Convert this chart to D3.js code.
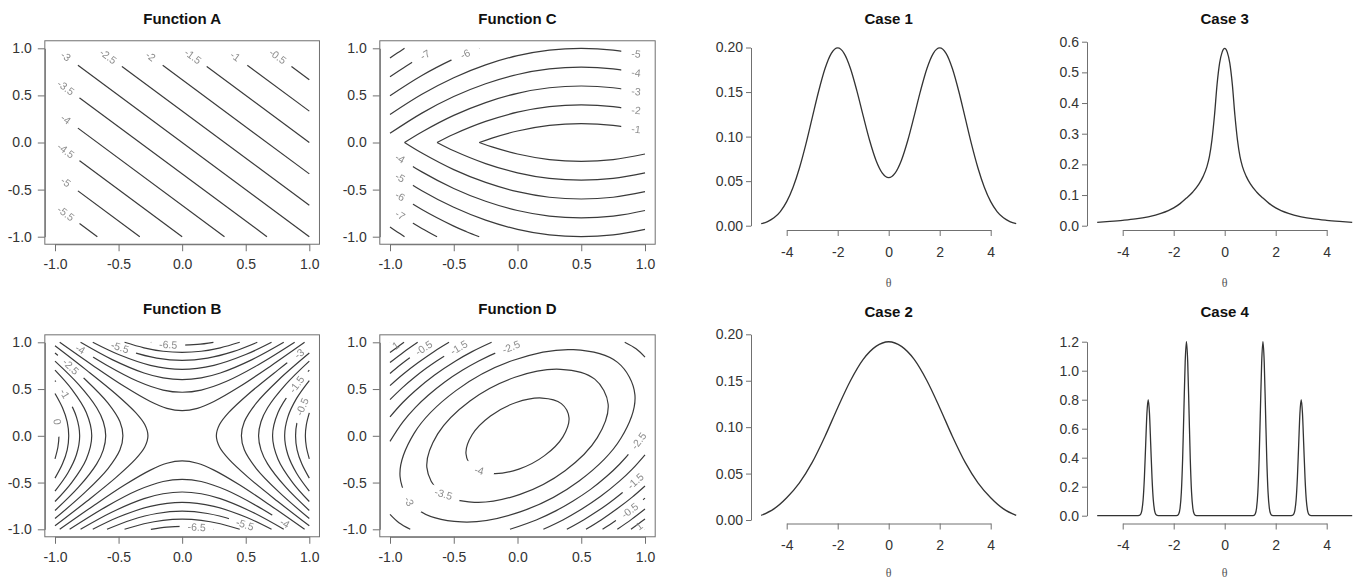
<!DOCTYPE html>
<html>
<head>
<meta charset="utf-8">
<script src="https://cdnjs.cloudflare.com/ajax/libs/d3/7.8.5/d3.min.js"></script>
<style>
body { margin: 0; background: #fff; }
svg { display: block; font-family: "Liberation Sans", Arial, sans-serif; }
.tick text { font-size: 14px; fill: #333; }
.tick line, .domain { stroke: #707070; }
.ttl { font-size: 15px; font-weight: bold; fill: #111; }
.clab { font-size: 10.5px; fill: #8c8c8c; opacity: 0.999; }
.theta { font-family: "Liberation Serif", "DejaVu Serif", serif; font-size: 12px; fill: #555; }
</style>
</head>
<body>
<script>
// tick values
const fnTicks = [-1, -0.5, 0, 0.5, 1];
const caseXTicks = [-4, -2, 0, 2, 4];
const case12Ticks = [0, 0.05, 0.10, 0.15, 0.20];
const case3Ticks = [0, 0.1, 0.2, 0.3, 0.4, 0.5, 0.6];
const case4Ticks = [0, 0.2, 0.4, 0.6, 0.8, 1.0, 1.2];

// contour pieces: z = level, p = points, at = label spot
const aLines = [
  {z: -0.5, p: [[0.667, 1], [1, 0.667]], at: [0.752, 0.915]},
  {z: -1,   p: [[0.333, 1], [1, 0.333]], at: [0.418, 0.915]},
  {z: -1.5, p: [[0, 1], [1, 0]], at: [0.085, 0.915]},
  {z: -2,   p: [[-0.333, 1], [1, -0.333]], at: [-0.248, 0.915]},
  {z: -2.5, p: [[-0.667, 1], [1, -0.667]], at: [-0.582, 0.915]},
  {z: -3,   p: [[-1, 1], [1, -1]], at: [-0.915, 0.915]},
  {z: -3.5, p: [[-1, 0.667], [0.667, -1]], at: [-0.915, 0.582]},
  {z: -4,   p: [[-1, 0.333], [0.333, -1]], at: [-0.915, 0.248]},
  {z: -4.5, p: [[-1, 0], [0, -1]], at: [-0.915, -0.085]},
  {z: -5,   p: [[-1, -0.333], [-0.333, -1]], at: [-0.915, -0.418]},
  {z: -5.5, p: [[-1, -0.667], [-0.667, -1]], at: [-0.915, -0.752]}
];

const cLines = [
  {z: -1, p: [[-0.3, 0], [-0.2, 0.047], [0, 0.122], [0.25, 0.181], [0.5, 0.2], [0.75, 0.181], [1, 0.122]], at: [0.93, 0.142]},
  {z: -1, p: [[-0.3, 0], [-0.2, -0.047], [0, -0.122], [0.25, -0.181], [0.5, -0.2], [0.75, -0.181], [1, -0.122]]},
  {z: -2, p: [[-0.631, 0], [-0.5, 0.088], [-0.25, 0.224], [0, 0.322], [0.25, 0.381], [0.5, 0.4], [0.75, 0.381], [1, 0.322]], at: [0.93, 0.342]},
  {z: -2, p: [[-0.631, 0], [-0.5, -0.088], [-0.25, -0.224], [0, -0.322], [0.25, -0.381], [0.5, -0.4], [0.75, -0.381], [1, -0.322]]},
  {z: -3, p: [[-0.886, 0], [-0.75, 0.112], [-0.5, 0.288], [-0.25, 0.424], [0, 0.522], [0.25, 0.581], [0.5, 0.6], [0.75, 0.581], [1, 0.522]], at: [0.93, 0.542]},
  {z: -3, p: [[-0.886, 0], [-0.75, -0.112], [-0.5, -0.288], [-0.25, -0.424], [0, -0.522], [0.25, -0.581], [0.5, -0.6], [0.75, -0.581], [1, -0.522]]},
  {z: -4, p: [[-1, 0.097], [-0.75, 0.312], [-0.5, 0.488], [-0.25, 0.624], [0, 0.722], [0.25, 0.781], [0.5, 0.8], [0.75, 0.781], [1, 0.722]], at: [0.93, 0.742]},
  {z: -4, p: [[-1, -0.097], [-0.75, -0.312], [-0.5, -0.488], [-0.25, -0.624], [0, -0.722], [0.25, -0.781], [0.5, -0.8], [0.75, -0.781], [1, -0.722]], at: [-0.92, -0.17]},
  {z: -5, p: [[-1, 0.297], [-0.75, 0.512], [-0.5, 0.688], [-0.25, 0.824], [0, 0.922], [0.25, 0.981], [0.5, 1], [0.75, 0.981], [1, 0.922]], at: [0.93, 0.942]},
  {z: -5, p: [[-1, -0.297], [-0.75, -0.512], [-0.5, -0.688], [-0.25, -0.824], [0, -0.922], [0.25, -0.981], [0.5, -1], [0.75, -0.981], [1, -0.922]], at: [-0.92, -0.37]},
  {z: -6, p: [[-1, 0.497], [-0.75, 0.712], [-0.5, 0.888], [-0.4, 0.947], [-0.3, 1]], at: [-0.41, 0.94]},
  {z: -6, p: [[-1, -0.497], [-0.75, -0.712], [-0.5, -0.888], [-0.4, -0.947], [-0.3, -1]], at: [-0.92, -0.57]},
  {z: -7, p: [[-1, 0.697], [-0.875, 0.809], [-0.75, 0.912], [-0.631, 1]], at: [-0.725, 0.931]},
  {z: -7, p: [[-1, -0.697], [-0.875, -0.809], [-0.75, -0.912], [-0.631, -1]], at: [-0.92, -0.77]},
  {z: -8, p: [[-1, 0.897], [-0.943, 0.949], [-0.886, 1]]},
  {z: -8, p: [[-1, -0.897], [-0.943, -0.949], [-0.886, -1]]}
];

const bLines = [
  // right side
  {z: 0,    p: [[1, -0.246], [0.977, -0.12], [0.969, 0], [0.977, 0.12], [1, 0.246]]},
  {z: -0.5, p: [[1, -0.453], [0.941, -0.3], [0.904, -0.15], [0.892, 0], [0.904, 0.15], [0.941, 0.3], [1, 0.453]], at: [0.944, 0.31]},
  {z: -1,   p: [[1, -0.591], [0.9, -0.4], [0.831, -0.2], [0.806, 0], [0.831, 0.2], [0.9, 0.4], [1, 0.591]]},
  {z: -1.5, p: [[1, -0.703], [0.869, -0.5], [0.754, -0.25], [0.711, 0], [0.754, 0.25], [0.869, 0.5], [1, 0.703]], at: [0.9, 0.55]},
  {z: -2,   p: [[1, -0.799], [0.815, -0.55], [0.672, -0.3], [0.62, -0.15], [0.601, 0], [0.62, 0.15], [0.672, 0.3], [0.815, 0.55], [1, 0.799]]},
  {z: -2.5, p: [[1, -0.885], [0.76, -0.6], [0.583, -0.35], [0.489, -0.15], [0.466, 0], [0.489, 0.15], [0.583, 0.35], [0.76, 0.6], [1, 0.885]]},
  {z: -3,   p: [[1, -0.963], [0.75, -0.7], [0.524, -0.45], [0.367, -0.25], [0.294, -0.12], [0.269, 0], [0.294, 0.12], [0.367, 0.25], [0.524, 0.45], [0.75, 0.7], [1, 0.963]], at: [0.92, 0.88]},
  // left side
  {z: 0,    p: [[-1, -0.246], [-0.977, -0.12], [-0.969, 0], [-0.977, 0.12], [-1, 0.246]], at: [-0.981, 0.15]},
  {z: -0.5, p: [[-1, -0.453], [-0.941, -0.3], [-0.904, -0.15], [-0.892, 0], [-0.904, 0.15], [-0.941, 0.3], [-1, 0.453]]},
  {z: -1,   p: [[-1, -0.591], [-0.9, -0.4], [-0.831, -0.2], [-0.806, 0], [-0.831, 0.2], [-0.9, 0.4], [-1, 0.591]], at: [-0.923, 0.45]},
  {z: -1.5, p: [[-1, -0.703], [-0.869, -0.5], [-0.754, -0.25], [-0.711, 0], [-0.754, 0.25], [-0.869, 0.5], [-1, 0.703]]},
  {z: -2,   p: [[-1, -0.799], [-0.815, -0.55], [-0.672, -0.3], [-0.62, -0.15], [-0.601, 0], [-0.62, 0.15], [-0.672, 0.3], [-0.815, 0.55], [-1, 0.799]]},
  {z: -2.5, p: [[-1, -0.885], [-0.76, -0.6], [-0.583, -0.35], [-0.489, -0.15], [-0.466, 0], [-0.489, 0.15], [-0.583, 0.35], [-0.76, 0.6], [-1, 0.885]], at: [-0.876, 0.74]},
  {z: -3,   p: [[-1, -0.963], [-0.75, -0.7], [-0.524, -0.45], [-0.367, -0.25], [-0.294, -0.12], [-0.269, 0], [-0.294, 0.12], [-0.367, 0.25], [-0.524, 0.45], [-0.75, 0.7], [-1, 0.963]]},
  // top
  {z: -3.5, p: [[-0.963, 1], [-0.7, 0.75], [-0.45, 0.524], [-0.25, 0.367], [-0.12, 0.294], [0, 0.269], [0.12, 0.294], [0.25, 0.367], [0.45, 0.524], [0.7, 0.75], [0.963, 1]]},
  {z: -4,   p: [[-0.885, 1], [-0.6, 0.76], [-0.35, 0.583], [-0.15, 0.489], [0, 0.466], [0.15, 0.489], [0.35, 0.583], [0.6, 0.76], [0.885, 1]], at: [-0.8, 0.928]},
  {z: -4.5, p: [[-0.799, 1], [-0.55, 0.815], [-0.3, 0.672], [-0.15, 0.62], [0, 0.601], [0.15, 0.62], [0.3, 0.672], [0.55, 0.815], [0.799, 1]]},
  {z: -5,   p: [[-0.703, 1], [-0.5, 0.869], [-0.25, 0.754], [0, 0.711], [0.25, 0.754], [0.5, 0.869], [0.703, 1]]},
  {z: -5.5, p: [[-0.591, 1], [-0.4, 0.9], [-0.2, 0.831], [0, 0.806], [0.2, 0.831], [0.4, 0.9], [0.591, 1]], at: [-0.489, 0.947]},
  {z: -6,   p: [[-0.453, 1], [-0.3, 0.941], [-0.15, 0.904], [0, 0.892], [0.15, 0.904], [0.3, 0.941], [0.453, 1]]},
  {z: -6.5, p: [[-0.246, 1], [-0.12, 0.977], [0, 0.969], [0.12, 0.977], [0.246, 1]], at: [-0.11, 0.975]},
  // bottom
  {z: -3.5, p: [[-0.963, -1], [-0.7, -0.75], [-0.45, -0.524], [-0.25, -0.367], [-0.12, -0.294], [0, -0.269], [0.12, -0.294], [0.25, -0.367], [0.45, -0.524], [0.7, -0.75], [0.963, -1]]},
  {z: -4,   p: [[-0.885, -1], [-0.6, -0.76], [-0.35, -0.583], [-0.15, -0.489], [0, -0.466], [0.15, -0.489], [0.35, -0.583], [0.6, -0.76], [0.885, -1]], at: [0.808, -0.935]},
  {z: -4.5, p: [[-0.799, -1], [-0.55, -0.815], [-0.3, -0.672], [-0.15, -0.62], [0, -0.601], [0.15, -0.62], [0.3, -0.672], [0.55, -0.815], [0.799, -1]]},
  {z: -5,   p: [[-0.703, -1], [-0.5, -0.869], [-0.25, -0.754], [0, -0.711], [0.25, -0.754], [0.5, -0.869], [0.703, -1]]},
  {z: -5.5, p: [[-0.591, -1], [-0.4, -0.9], [-0.2, -0.831], [0, -0.806], [0.2, -0.831], [0.4, -0.9], [0.591, -1]], at: [0.494, -0.949]},
  {z: -6,   p: [[-0.453, -1], [-0.3, -0.941], [-0.15, -0.904], [0, -0.892], [0.15, -0.904], [0.3, -0.941], [0.453, -1]]},
  {z: -6.5, p: [[-0.246, -1], [-0.12, -0.977], [0, -0.969], [0.12, -0.977], [0.246, -1]], at: [0.114, -0.976]}
];

const dLines = [
  {z: -4, closed: true, p: [[0.344, 0.344], [0.192, 0.404], [-0.011, 0.356], [-0.212, 0.212], [-0.356, 0.011], [-0.404, -0.192], [-0.344, -0.344], [-0.192, -0.404], [0.011, -0.356], [0.212, -0.212], [0.356, -0.011], [0.404, 0.192]], at: [-0.3, -0.37]},
  {z: -3.5, closed: true, p: [[0.606, 0.606], [0.338, 0.711], [-0.02, 0.626], [-0.373, 0.373], [-0.626, 0.02], [-0.711, -0.338], [-0.606, -0.606], [-0.338, -0.711], [0.02, -0.626], [0.373, -0.373], [0.626, -0.02], [0.711, 0.338]], at: [-0.58, -0.622]},
  {z: -3, closed: true, p: [[0.785, 0.785], [0.438, 0.921], [-0.026, 0.811], [-0.483, 0.483], [-0.811, 0.026], [-0.921, -0.438], [-0.785, -0.785], [-0.438, -0.921], [0.026, -0.811], [0.483, -0.483], [0.811, -0.026], [0.921, 0.438]], at: [-0.85, -0.7]},
  {z: -2.5, p: [[-1, -0.059], [-0.9, 0.147], [-0.8, 0.304], [-0.7, 0.433], [-0.573, 0.573], [-0.433, 0.7], [-0.304, 0.8], [-0.147, 0.9], [0.059, 1]], at: [-0.05, 0.951]},
  {z: -2.5, p: [[1, 0.059], [0.9, -0.147], [0.8, -0.304], [0.7, -0.433], [0.573, -0.573], [0.433, -0.7], [0.304, -0.8], [0.147, -0.9], [-0.059, -1]], at: [0.95, -0.053]},
  {z: -2.5, p: [[0.841, 1], [0.93, 0.93], [1, 0.841]]},
  {z: -2.5, p: [[-0.841, -1], [-0.93, -0.93], [-1, -0.841]]},
  {z: -2, p: [[-1, 0.203], [-0.9, 0.356], [-0.8, 0.485], [-0.65, 0.65], [-0.485, 0.8], [-0.356, 0.9], [-0.203, 1]]},
  {z: -2, p: [[1, -0.203], [0.9, -0.356], [0.8, -0.485], [0.65, -0.65], [0.485, -0.8], [0.356, -0.9], [0.203, -1]]},
  {z: -1.5, p: [[-1, 0.387], [-0.9, 0.518], [-0.8, 0.634], [-0.719, 0.719], [-0.634, 0.8], [-0.518, 0.9], [-0.387, 1]], at: [-0.46, 0.944]},
  {z: -1.5, p: [[1, -0.387], [0.9, -0.518], [0.8, -0.634], [0.719, -0.719], [0.634, -0.8], [0.518, -0.9], [0.387, -1]], at: [0.925, -0.485]},
  {z: -1, p: [[-1, 0.537], [-0.9, 0.656], [-0.781, 0.781], [-0.656, 0.9], [-0.537, 1]]},
  {z: -1, p: [[1, -0.537], [0.9, -0.656], [0.781, -0.781], [0.656, -0.9], [0.537, -1]]},
  {z: -0.5, p: [[-1, 0.667], [-0.92, 0.757], [-0.84, 0.84], [-0.757, 0.92], [-0.667, 1]], at: [-0.735, 0.94]},
  {z: -0.5, p: [[1, -0.667], [0.92, -0.757], [0.84, -0.84], [0.757, -0.92], [0.667, -1]], at: [0.88, -0.798]},
  {z: 0, p: [[-1, 0.783], [-0.894, 0.894], [-0.783, 1]]},
  {z: 0, p: [[1, -0.783], [0.894, -0.894], [0.783, -1]]},
  {z: 0.5, p: [[-1, 0.89], [-0.945, 0.945], [-0.89, 1]]},
  {z: 0.5, p: [[1, -0.89], [0.945, -0.945], [0.89, -1]]},
  {z: 1, p: [[-1, 0.988], [-0.994, 0.994], [-0.988, 1]], at: [-0.955, 0.965]},
  {z: 1, p: [[1, -0.988], [0.994, -0.994], [0.988, -1]], at: [0.955, -0.965]}
];

// density curves
const case1 = [[-5, 0.0022], [-4.75, 0.0046], [-4.5, 0.0088], [-4.25, 0.0159], [-4, 0.0270], [-3.75, 0.0432], [-3.5, 0.0648], [-3.25, 0.0913], [-3, 0.1210], [-2.75, 0.1506], [-2.5, 0.1761], [-2.25, 0.1934], [-2, 0.1995], [-1.75, 0.1935], [-1.5, 0.1765], [-1.25, 0.1516], [-1, 0.1232], [-0.75, 0.0959], [-0.5, 0.0735], [-0.25, 0.0590], [0, 0.0540], [0.25, 0.0590], [0.5, 0.0735], [0.75, 0.0959], [1, 0.1232], [1.25, 0.1516], [1.5, 0.1765], [1.75, 0.1935], [2, 0.1995], [2.25, 0.1934], [2.5, 0.1761], [2.75, 0.1506], [3, 0.1210], [3.25, 0.0913], [3.5, 0.0648], [3.75, 0.0432], [4, 0.0270], [4.25, 0.0159], [4.5, 0.0088], [4.75, 0.0046], [5, 0.0022]];
const case2 = [[-5, 0.005], [-4.5, 0.012], [-4, 0.024], [-3.5, 0.040], [-3, 0.062], [-2.5, 0.090], [-2, 0.121], [-1.5, 0.150], [-1, 0.173], [-0.5, 0.187], [0, 0.192], [0.5, 0.187], [1, 0.173], [1.5, 0.150], [2, 0.121], [2.5, 0.090], [3, 0.062], [3.5, 0.040], [4, 0.024], [4.5, 0.012], [5, 0.005]];
const case3 = [[-5, 0.011], [-4.5, 0.014], [-4, 0.0175], [-3.5, 0.022], [-3, 0.029], [-2.5, 0.040], [-2, 0.058], [-1.75, 0.072], [-1.5, 0.09], [-1.25, 0.11], [-1, 0.137], [-0.85, 0.16], [-0.7, 0.192], [-0.6, 0.225], [-0.5, 0.28], [-0.4, 0.36], [-0.3, 0.46], [-0.2, 0.53], [-0.1, 0.566], [0, 0.578], [0.1, 0.566], [0.2, 0.53], [0.3, 0.46], [0.4, 0.36], [0.5, 0.28], [0.6, 0.225], [0.7, 0.192], [0.85, 0.16], [1, 0.137], [1.25, 0.11], [1.5, 0.09], [1.75, 0.072], [2, 0.058], [2.5, 0.040], [3, 0.029], [3.5, 0.022], [4, 0.0175], [4.5, 0.014], [5, 0.011]];
const case4 = [[-5, 0], [-3.45, 0], [-3.35, 0.002], [-3.3, 0.009], [-3.25, 0.035], [-3.2, 0.108], [-3.15, 0.26], [-3.1, 0.485], [-3.05, 0.706], [-3, 0.8], [-2.95, 0.706], [-2.9, 0.485], [-2.85, 0.26], [-2.8, 0.108], [-2.75, 0.035], [-2.7, 0.009], [-2.65, 0.002], [-2.55, 0],
  [-1.95, 0], [-1.85, 0.003], [-1.8, 0.013], [-1.75, 0.053], [-1.7, 0.162], [-1.65, 0.39], [-1.6, 0.728], [-1.55, 1.059], [-1.5, 1.2], [-1.45, 1.059], [-1.4, 0.728], [-1.35, 0.39], [-1.3, 0.162], [-1.25, 0.053], [-1.2, 0.013], [-1.15, 0.003], [-1.05, 0],
  [1.05, 0], [1.15, 0.003], [1.2, 0.013], [1.25, 0.053], [1.3, 0.162], [1.35, 0.39], [1.4, 0.728], [1.45, 1.059], [1.5, 1.2], [1.55, 1.059], [1.6, 0.728], [1.65, 0.39], [1.7, 0.162], [1.75, 0.053], [1.8, 0.013], [1.85, 0.003], [1.95, 0],
  [2.55, 0], [2.65, 0.002], [2.7, 0.009], [2.75, 0.035], [2.8, 0.108], [2.85, 0.26], [2.9, 0.485], [2.95, 0.706], [3, 0.8], [3.05, 0.706], [3.1, 0.485], [3.15, 0.26], [3.2, 0.108], [3.25, 0.035], [3.3, 0.009], [3.35, 0.002], [3.45, 0], [5, 0]];

const W = 1356, H = 578;
const svg = d3.select("body").append("svg").attr("width", W).attr("height", H);
const defs = svg.append("defs");
let maskId = 0;

function labelAngle(pc, x, y) {
  const P = pc.p.map(d => [x(d[0]), y(d[1])]);
  const n = P.length, lx = x(pc.at[0]), ly = y(pc.at[1]);
  const segs = pc.closed ? n : n - 1;
  let best = 0, bd = Infinity;
  for (let i = 0; i < segs; i++) {
    const a = P[i], b = P[(i + 1) % n];
    const dx = b[0] - a[0], dy = b[1] - a[1];
    let t = ((lx - a[0]) * dx + (ly - a[1]) * dy) / (dx * dx + dy * dy);
    t = Math.max(0, Math.min(1, t));
    const dd = Math.hypot(a[0] + t * dx - lx, a[1] + t * dy - ly);
    if (dd < bd) { bd = dd; best = i; }
  }
  const ia = pc.closed ? (best - 1 + n) % n : Math.max(best - 1, 0);
  const ib = pc.closed ? (best + 2) % n : Math.min(best + 2, n - 1);
  let ang = Math.atan2(P[ib][1] - P[ia][1], P[ib][0] - P[ia][0]) * 180 / Math.PI;
  if (ang > 90) ang -= 180;
  if (ang < -90) ang += 180;
  return ang;
}

function contourPanel(title, pieces, x0, x1, y0, y1, titleY) {
  const x = d3.scaleLinear().domain([-1, 1]).range([x0, x1]);
  const y = d3.scaleLinear().domain([-1, 1]).range([y0, y1]);
  const g = svg.append("g");
  const bl = x(-1.08), br = x(1.08), bt = y(1.08), bb = y(-1.08);

  g.append("g").attr("transform", `translate(0,${bb})`)
    .call(d3.axisBottom(x).tickValues(fnTicks).tickFormat(d => d.toFixed(1)).tickSize(7).tickPadding(8).tickSizeOuter(0));
  g.append("g").attr("transform", `translate(${bl},0)`)
    .call(d3.axisLeft(y).tickValues(fnTicks).tickFormat(d => d.toFixed(1)).tickSize(7).tickPadding(6).tickSizeOuter(0));
  g.append("rect").attr("x", bl).attr("y", bt).attr("width", br - bl).attr("height", bb - bt)
    .attr("fill", "none").attr("stroke", "#707070");

  g.append("text").attr("class", "ttl").attr("x", x(0)).attr("y", titleY)
    .attr("text-anchor", "middle").text(title);

  const line = d3.line().x(d => x(d[0])).y(d => y(d[1])).curve(d3.curveCatmullRom.alpha(0.5));
  const ring = d3.line().x(d => x(d[0])).y(d => y(d[1])).curve(d3.curveCatmullRomClosed.alpha(0.5));

  pieces.forEach(pc => {
    const path = g.append("path").attr("d", (pc.closed ? ring : line)(pc.p))
      .attr("fill", "none").attr("stroke", "#3a3a3a").attr("stroke-width", 1.2);
    if (!pc.at) return;
    const lx = x(pc.at[0]), ly = y(pc.at[1]);
    const ang = labelAngle(pc, x, y);
    const tf = `translate(${lx},${ly}) rotate(${ang})`;
    const t = g.append("text").attr("class", "clab").attr("transform", tf)
      .attr("text-anchor", "middle").attr("dy", "0.35em").text(String(pc.z));
    const w = Math.max(t.node().getComputedTextLength() + 16, 30);
    const id = "lab" + (maskId++);
    const m = defs.append("mask").attr("id", id).attr("maskUnits", "userSpaceOnUse")
      .attr("x", 0).attr("y", 0).attr("width", W).attr("height", H);
    m.append("rect").attr("width", W).attr("height", H).attr("fill", "white");
    m.append("rect").attr("x", -w / 2).attr("y", -6).attr("width", w).attr("height", 12)
      .attr("fill", "black").attr("transform", tf);
    path.attr("mask", `url(#${id})`);
  });
}

function casePanel(title, data, yTicks, dec, x0, x1, yb, yt, ymax, axisY, titleY, thetaY) {
  const x = d3.scaleLinear().domain([-4, 4]).range([x0, x1]);
  const y = d3.scaleLinear().domain([0, ymax]).range([yb, yt]);
  const g = svg.append("g");

  g.append("g").attr("transform", `translate(0,${axisY})`)
    .call(d3.axisBottom(x).tickValues(caseXTicks).tickFormat(d => String(d)).tickSize(6).tickPadding(11).tickSizeOuter(0));
  g.append("g").attr("transform", `translate(${x(-5.4)},0)`)
    .call(d3.axisLeft(y).tickValues(yTicks).tickFormat(d => d.toFixed(dec)).tickSize(5).tickPadding(3).tickSizeOuter(0));

  g.append("path").datum(data)
    .attr("d", d3.line().x(d => x(d[0])).y(d => y(d[1])).curve(d3.curveMonotoneX))
    .attr("fill", "none").attr("stroke", "#333").attr("stroke-width", 1.3);

  g.append("text").attr("class", "ttl").attr("x", x(0)).attr("y", titleY)
    .attr("text-anchor", "middle").text(title);
  g.append("text").attr("class", "theta").attr("x", x(0)).attr("y", thetaY)
    .attr("text-anchor", "middle").text("θ");
}

contourPanel("Function A", aLines, 55, 309.3, 236.7, 48.3, 24);
contourPanel("Function C", cLines, 390, 645, 236.7, 48.3, 24);
contourPanel("Function B", bLines, 55, 309.3, 529.3, 342.3, 314);
contourPanel("Function D", dLines, 390, 645, 529.3, 342.3, 314);

casePanel("Case 1", case1, case12Ticks, 2, 786.7, 990.7, 225.7, 47.5, 0.2, 230, 24, 287);
casePanel("Case 3", case3, case3Ticks, 1, 1122.7, 1326.7, 225.7, 41.7, 0.6, 230, 24, 287);
casePanel("Case 2", case2, case12Ticks, 2, 786.7, 990.7, 520, 334.3, 0.2, 523.5, 317, 576.5);
casePanel("Case 4", case4, case4Ticks, 1, 1122.7, 1326.7, 515.7, 341.7, 1.2, 523.5, 317, 576.5);
</script>
</body>
</html>
